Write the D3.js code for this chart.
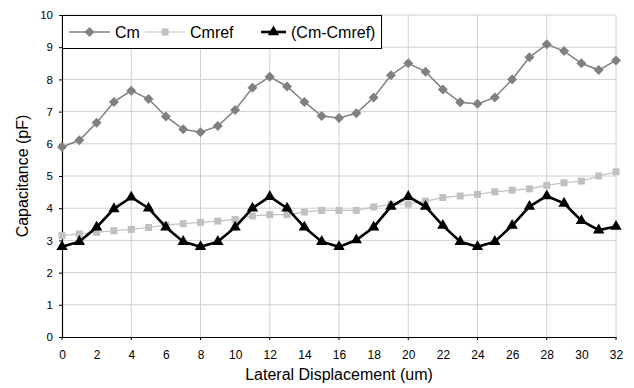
<!DOCTYPE html>
<html>
<head>
<meta charset="utf-8">
<script src="https://cdn.jsdelivr.net/npm/d3@7"></script>
<style>
  body { margin: 0; background: #fff; }
  svg, svg text { font-family: 'Liberation Sans', Arial, sans-serif; }
  svg { display: block; }
  .grid line { stroke: #d0d0d0; stroke-width: 1; }
  .axis-x .tick text { font-size: 12px; fill: #000; }
  .axis-y .tick text { font-size: 11.5px; fill: #000; }
</style>
</head>
<body>
<div id="chart"></div>
<script>
// data
const xValues = d3.range(0, 33);
const cm = [5.9, 6.11, 6.65, 7.3, 7.65, 7.39, 6.85, 6.45, 6.36, 6.55, 7.05, 7.74, 8.08, 7.78, 7.3, 6.86, 6.8,
            6.95, 7.44, 8.13, 8.5, 8.24, 7.69, 7.29, 7.24, 7.44, 8.0, 8.69, 9.09, 8.88, 8.5, 8.29, 8.59];
const cmref = [3.15, 3.2, 3.25, 3.3, 3.34, 3.4, 3.48, 3.52, 3.56, 3.6, 3.65, 3.76, 3.8, 3.8, 3.88, 3.93, 3.93,
               3.93, 4.04, 4.12, 4.13, 4.22, 4.33, 4.38, 4.43, 4.51, 4.56, 4.6, 4.71, 4.79, 4.84, 5.0, 5.13];
const diff = [2.8, 2.96, 3.41, 3.98, 4.34, 4.0, 3.41, 2.96, 2.8, 2.96, 3.41, 4.0, 4.36, 4.0, 3.41, 2.96, 2.8,
              3.01, 3.41, 4.05, 4.36, 4.05, 3.46, 2.96, 2.8, 2.96, 3.46, 4.05, 4.38, 4.15, 3.61, 3.32, 3.43];
const xTicks = d3.range(0, 33, 2);
const xGridTicks = d3.range(0, 33, 4);
const yTicks = d3.range(0, 11, 1);

const series = [
  {name: 'Cm', values: cm, color: '#808080', width: 1.5, symbol: d3.symbolSquare, size: 50, rotate: 45},
  {name: 'Cmref', values: cmref, color: '#c0c0c0', width: 1.2, symbol: d3.symbolSquare, size: 49, rotate: 0},
  {name: '(Cm-Cmref)', values: diff, color: '#000000', width: 2.6, symbol: d3.symbolTriangle, size: 56, rotate: 0}
];

const width = 634, height = 388;
const margin = {t: 15, r: 18, b: 51, l: 62};
const w = width - margin.l - margin.r;
const h = height - margin.t - margin.b;

const svg = d3.select('#chart').append('svg')
    .attr('width', width)
    .attr('height', height);

const plot = svg.append('g')
    .attr('transform', `translate(${margin.l},${margin.t})`);

const scaleX = d3.scaleLinear().domain([0, 32]).range([0, w]);
const scaleY = d3.scaleLinear().domain([0, 10]).range([h, 0]);

// gridlines
const grid = plot.append('g').attr('class', 'grid');
grid.selectAll('.hgrid')
    .data(yTicks.slice(1))
    .enter().append('line')
    .attr('x1', 0).attr('x2', w)
    .attr('y1', d => scaleY(d)).attr('y2', d => scaleY(d));
grid.selectAll('.vgrid')
    .data(xGridTicks.slice(1))
    .enter().append('line')
    .attr('y1', 0).attr('y2', h)
    .attr('x1', d => scaleX(d)).attr('x2', d => scaleX(d));

// axes
const axisX = d3.axisBottom(scaleX).tickValues(xTicks).tickSize(0).tickPadding(13);
const axisY = d3.axisLeft(scaleY).tickValues(yTicks).tickSize(3).tickPadding(6).tickFormat(d3.format('d'));

const gx = plot.append('g')
    .attr('class', 'axis-x')
    .attr('transform', `translate(0,${h})`)
    .call(axisX);
gx.attr('font-family', null);
gx.select('.domain').attr('stroke', '#000').attr('stroke-width', 1.2);
gx.selectAll('.minor')
    .data(xGridTicks)
    .enter().append('line')
    .attr('x1', d => scaleX(d)).attr('x2', d => scaleX(d))
    .attr('y1', 0).attr('y2', 3)
    .attr('stroke', '#000');

const gy = plot.append('g').attr('class', 'axis-y').call(axisY);
gy.attr('font-family', null);
gy.select('.domain').attr('stroke', '#000').attr('stroke-width', 1.2);

// lines and markers
const line = d3.line()
    .x((d, i) => scaleX(xValues[i]))
    .y(d => scaleY(d));

series.forEach(s => {
    plot.append('path')
        .datum(s.values)
        .attr('fill', 'none')
        .attr('stroke', s.color)
        .attr('stroke-width', s.width)
        .attr('d', line);
    plot.selectAll(null)
        .data(s.values)
        .enter().append('path')
        .attr('transform', (d, i) => `translate(${scaleX(xValues[i])},${scaleY(d)}) rotate(${s.rotate})`)
        .attr('d', d3.symbol().type(s.symbol).size(s.size))
        .attr('fill', s.color);
});

// legend
const legend = svg.append('g').attr('transform', `translate(${margin.l},${margin.t})`);
legend.append('rect')
    .attr('x', 0.5).attr('y', 0.5)
    .attr('width', 319).attr('height', 33)
    .attr('fill', '#fff')
    .attr('stroke', '#000')
    .attr('stroke-width', 1);

const legendX = [7, 83, 199];
const legendLineW = [41, 40, 25];
series.forEach((s, i) => {
    const g = legend.append('g').attr('transform', `translate(${legendX[i]},17)`);
    g.append('line')
        .attr('x1', 0).attr('x2', legendLineW[i])
        .attr('stroke', s.color)
        .attr('stroke-width', s.width);
    g.append('path')
        .attr('transform', `translate(${legendLineW[i] / 2},0) rotate(${s.rotate})`)
        .attr('d', d3.symbol().type(s.symbol).size(s.size))
        .attr('fill', s.color);
    g.append('text')
        .attr('x', legendLineW[i] + 5).attr('y', 5.5)
        .style('font-size', '16px')
        .text(s.name);
});

// axis titles
svg.append('text')
    .attr('x', margin.l + w / 2)
    .attr('y', 380)
    .attr('text-anchor', 'middle')
    .style('font-size', '16px')
    .text('Lateral Displacement (um)');

svg.append('text')
    .attr('transform', `translate(28,${margin.t + h / 2}) rotate(-90)`)
    .attr('text-anchor', 'middle')
    .style('font-size', '16px')
    .text('Capacitance (pF)');
</script>
</body>
</html>
